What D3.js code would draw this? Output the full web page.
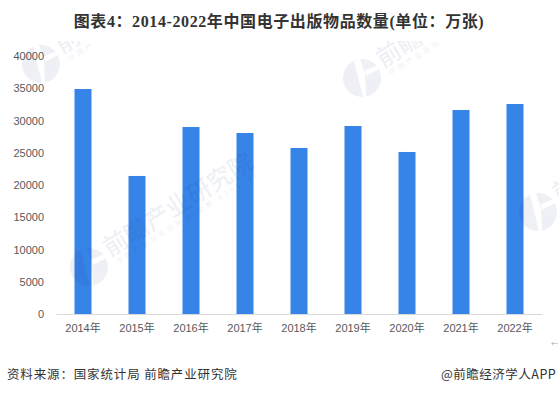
<!DOCTYPE html>
<html>
<head>
<meta charset="utf-8">
<script src="https://cdn.jsdelivr.net/npm/d3@7"></script>
<style>
	html, body { margin: 0; padding: 0; background: #fff; }
	svg { display: block; }
	text { font-family: "Noto Sans CJK SC", "Liberation Sans", sans-serif; }
</style>
</head>
<body>
<script>
var years = ['2014年', '2015年', '2016年', '2017年', '2018年', '2019年', '2020年', '2021年', '2022年']
var counts = [34880, 21400, 28990, 28060, 25740, 29150, 25120, 31630, 32560]
var yTicks = [0, 5000, 10000, 15000, 20000, 25000, 30000, 35000, 40000]

var width = 559,
	height = 395

var svg = d3.select('body').append('svg')
	.attr('width', width)
	.attr('height', height)

var x = d3.scaleBand()
	.domain(years)
	.range([56, 542])
	.paddingInner(0.685)
	.paddingOuter(0.3425)

var y = d3.scaleLinear()
	.domain([0, 40000])
	.range([314, 56])

svg.append('text')
	.attr('x', 279)
	.attr('y', 27)
	.attr('text-anchor', 'middle')
	.attr('font-size', 16)
	.attr('font-weight', 700)
	.attr('letter-spacing', 0.6)
	.attr('fill', '#333')
	.style('font-family', '"Liberation Serif", "Noto Sans CJK SC", serif')
	.text('图表4：2014-2022年中国电子出版物品数量(单位：万张)')

svg.selectAll('rect.bar')
	.data(counts)
	.enter()
	.append('rect')
		.attr('class', 'bar')
		.attr('x', (d, i) => x(years[i]))
		.attr('y', d => y(d))
		.attr('width', x.bandwidth())
		.attr('height', d => y(0) - y(d))
		.attr('fill', '#3784e8')

var xAxis = svg.append('g')
	.attr('transform', 'translate(0,314)')
	.call(d3.axisBottom(x).tickSize(0).tickPadding(10))
xAxis.select('.domain').attr('stroke', '#d9d9d9')
xAxis.selectAll('text')
	.attr('font-size', 11)
	.attr('fill', '#595959')
	.style('font-family', '"Liberation Sans", "Noto Sans CJK SC", sans-serif')

var yAxis = svg.append('g')
	.attr('transform', 'translate(44,0)')
	.call(d3.axisLeft(y).tickValues(yTicks).tickFormat(d3.format('d')).tickSize(0).tickPadding(0))
yAxis.select('.domain').remove()
yAxis.selectAll('text')
	.attr('font-size', 11)
	.attr('fill', '#595959')
	.style('font-family', '"Liberation Sans", sans-serif')

svg.append('text')
	.attr('x', 7)
	.attr('y', 379)
	.attr('font-size', 12.5)
	.attr('letter-spacing', 0.85)
	.attr('fill', '#333')
	.text('资料来源：国家统计局 前瞻产业研究院')

svg.append('text')
	.attr('x', 441)
	.attr('y', 379)
	.attr('font-size', 12.5)
	.attr('letter-spacing', 0.5)
	.attr('fill', '#333')
	.text('@前瞻经济学人APP')

svg.append('text')
	.attr('x', 558)
	.attr('y', 346)
	.attr('text-anchor', 'end')
	.attr('font-size', 7)
	.attr('fill', '#aaa')
	.text('←')

// watermarks are laid over the bars, the tile edge cuts them off near the title
svg.append('clipPath')
	.attr('id', 'tile')
	.append('rect')
		.attr('x', 0)
		.attr('y', 41)
		.attr('width', width)
		.attr('height', height - 41)

var marks = svg.append('g')
	.attr('clip-path', 'url(#tile)')
	.style('mix-blend-mode', 'multiply')

function watermark(cx, cy, main, sub) {
	var g = marks.append('g')
		.attr('transform', 'translate(' + cx + ',' + cy + ')')
	g.append('circle')
		.attr('r', 19)
		.attr('fill', '#eef0f5')
	g.append('path')
		.attr('d', 'M-8,-17 L-2,-19 L3,-4 L4,19 L1,19 Z M3,-8 L19,-14 L19,-10 L4,-2 Z')
		.attr('fill', '#fff')
	g.append('text')
		.attr('transform', 'rotate(-32) translate(23,3)')
		.attr('font-size', 24.5)
		.attr('font-weight', 500)
		.attr('fill', '#eef0f5')
		.text(main)
	if (sub) {
		g.append('text')
			.attr('transform', 'rotate(-32) translate(26,13)')
			.attr('font-size', 7)
			.attr('letter-spacing', 3)
			.attr('fill', '#eef0f5')
			.text(sub)
	}
}

watermark(41, 64, '前瞻', '中国产')
watermark(362, 78, '前瞻', '中国产业咨询')
watermark(89, 267, '前瞻产业研究院', '中国产业咨询领导者(股票:839599)')
watermark(538, 212, '前', '')
</script>
</body>
</html>
